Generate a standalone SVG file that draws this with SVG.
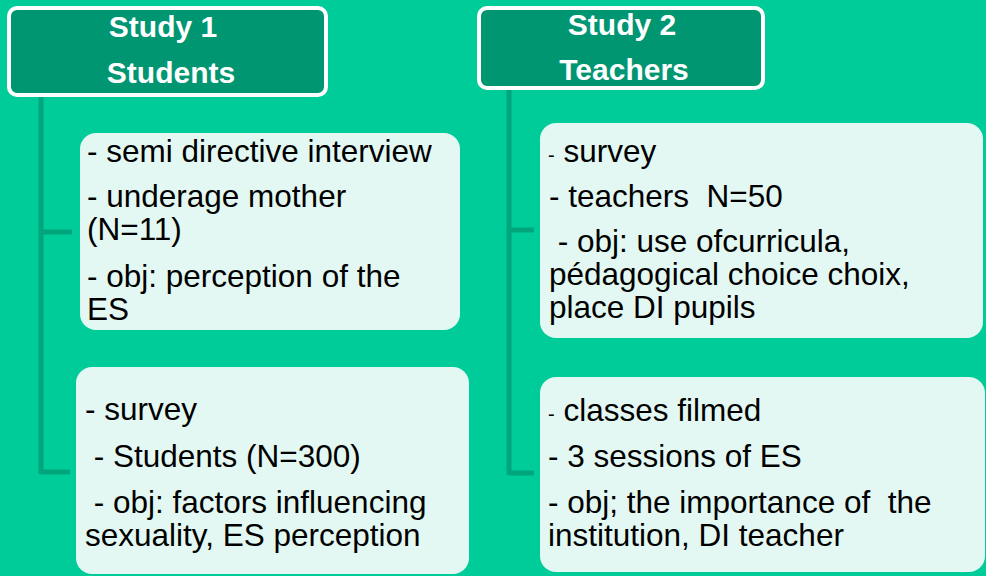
<svg xmlns="http://www.w3.org/2000/svg" width="986" height="576" viewBox="0 0 986 576">
<style>
.hdr{fill:#009672;stroke:#ffffff;stroke-width:4}
.htxt{font-family:"Liberation Sans",Arial,sans-serif;font-weight:bold;font-size:30px;fill:#ffffff;text-anchor:middle}
.box{fill:#E3F8F2}
.t{font-family:"Liberation Sans",Arial,sans-serif;font-size:31.5px;fill:#000000}
.sd{font-size:20px}
.con{fill:none;stroke:#00A57C;stroke-width:5}
</style>
<rect x="0" y="0" width="986" height="576" fill="#00CC99"/>
<g id="connectors">
<path class="con" d="M41 97 V474 M41 232 H72 M41 472 H70"/>
<path class="con" d="M509 90 V475 M509 230 H534 M509 473 H534"/>
</g>
<g id="study1">
<rect class="hdr" x="9" y="8" width="317" height="87" rx="8"/>
<text class="htxt" x="163" y="37">Study 1</text>
<text class="htxt" x="171" y="83">Students</text>
</g>
<g id="study2">
<rect class="hdr" x="479" y="8" width="284" height="80" rx="8"/>
<text class="htxt" x="622" y="35">Study 2</text>
<text class="htxt" x="624" y="80">Teachers</text>
</g>
<g id="s1box1">
<rect class="box" x="80" y="133" width="380" height="197" rx="16"/>
<text class="t" x="87" y="162">- semi directive interview</text>
<text class="t" x="87" y="207">- underage mother</text>
<text class="t" x="87" y="240">(N=11)</text>
<text class="t" x="87" y="287">- obj: perception of the</text>
<text class="t" x="87" y="320">ES</text>
</g>
<g id="s1box2">
<rect class="box" x="76" y="367" width="393" height="207" rx="16"/>
<text class="t" x="85" y="420">- survey</text>
<text class="t" x="85" y="467" xml:space="preserve"> - Students (N=300)</text>
<text class="t" x="85" y="513" xml:space="preserve"> - obj: factors influencing</text>
<text class="t" x="85" y="546">sexuality, ES perception</text>
</g>
<g id="s2box1">
<rect class="box" x="540" y="123" width="443" height="215" rx="16"/>
<text class="t" x="548" y="162"><tspan class="sd">-</tspan> survey</text>
<text class="t" x="549" y="207" xml:space="preserve">- teachers  N=50</text>
<text class="t" x="549" y="252" xml:space="preserve"> - obj: use ofcurricula,</text>
<text class="t" x="549" y="285">pédagogical choice choix,</text>
<text class="t" x="549" y="318">place DI pupils</text>
</g>
<g id="s2box2">
<rect class="box" x="540" y="377" width="445" height="195" rx="16"/>
<text class="t" x="548" y="421"><tspan class="sd">-</tspan> classes filmed</text>
<text class="t" x="548" y="467">- 3 sessions of ES</text>
<text class="t" x="548" y="513" xml:space="preserve">- obj; the importance of  the</text>
<text class="t" x="548" y="546">institution, DI teacher</text>
</g>
</svg>
